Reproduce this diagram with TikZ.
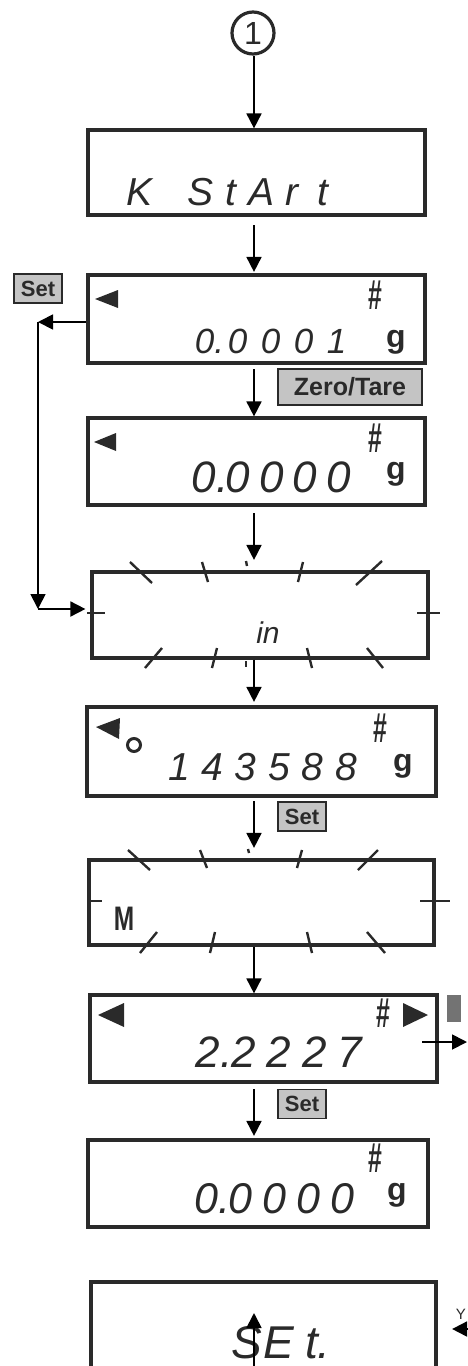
\documentclass[tikz,border=0pt]{standalone}
\usepackage{fontspec}
\usetikzlibrary{arrows.meta}
\newfontfamily\lcdfont{Liberation Sans}
\newfontfamily\keyfont{Liberation Sans}
\newlength\cw
\newcommand\cc[1]{\makebox[\cw][c]{#1}}
\definecolor{ink}{HTML}{2A2A2A}
\definecolor{keyfill}{HTML}{C4C4C4}
\tikzset{
  lcdbox/.style={draw=ink, line width=3.2pt, rectangle, inner sep=0pt},
  arr/.style={draw=black, line width=1.8pt, -{Triangle[length=15pt,width=15pt]}},
  blinkmark/.style={draw=ink, line width=2.4pt},
  keylabel/.style={draw=ink, fill=keyfill, line width=1.8pt, inner sep=0pt, text=ink,
    font=\keyfont\bfseries\fontsize{22}{22}\selectfont},
  lcdtxt/.style={inner sep=0pt, anchor=base west, text=ink,
    font=\lcdfont\itshape\fontsize{#1}{#1}\selectfont},
  hashsym/.style={inner sep=0pt, text=ink, font=\keyfont\bfseries\fontsize{40}{40}\selectfont},
  gram/.style={inner sep=0pt, text=ink, font=\keyfont\bfseries\fontsize{32}{32}\selectfont},
}
\begin{document}
\begin{tikzpicture}[x=1pt,y=-1pt]
\useasboundingbox (0,0) rectangle (467,1366);
\coordinate (axis) at (254,0);

% start marker
\node[circle, draw=ink, line width=3.2pt, minimum size=42pt, inner sep=0pt,
      font=\keyfont\fontsize{32}{32}\selectfont, text=ink] (start) at (253,33) {1};

% display boxes
\node[lcdbox, minimum width=337pt, minimum height=85pt] (b1) at (256.5,172.5) {};
\node[lcdbox, minimum width=337pt, minimum height=88pt] (b2) at (256.5,319) {};
\node[lcdbox, minimum width=337pt, minimum height=87pt] (b3) at (256.5,461.5) {};
\node[lcdbox, minimum width=336pt, minimum height=86pt] (b4) at (260,615) {};
\node[lcdbox, minimum width=349pt, minimum height=89pt] (b5) at (261.5,751.5) {};
\node[lcdbox, minimum width=345pt, minimum height=85pt] (b6) at (261.5,902.5) {};
\node[lcdbox, minimum width=347pt, minimum height=87pt] (b7) at (263.5,1038.5) {};
\node[lcdbox, minimum width=340pt, minimum height=87pt] (b8) at (258,1183.5) {};
\node[lcdbox, minimum width=345pt, minimum height=100pt] (b9) at (263.5,1332) {};

% box 1
\node[lcdtxt=39] (t1) at (124,205) {\setlength\cw{30.5pt}\cc{K}\cc{\ }\cc{S}\cc{t}\cc{A}\cc{r}\cc{t}};

% box 2
\fill[ink] (95,299) -- (118,290) -- (118,308) -- cycle;
\node[hashsym] (h2) at (375,295) {\scalebox{0.62}[1.05]{\#}};
\node[lcdtxt=35] (t2) at (188,353) {\setlength\cw{33pt}\cc{0\rlap{.}}\cc{0}\cc{0}\cc{0}\cc{1}};
\node[gram] (g2) at (396,342) {g};

% box 3
\fill[ink] (94,442) -- (116,433) -- (116,451) -- cycle;
\node[hashsym] (h3) at (375,438) {\scalebox{0.62}[1.05]{\#}};
\node[lcdtxt=44] (t3) at (187,492) {\setlength\cw{33.7pt}\cc{0\rlap{.}}\cc{0}\cc{0}\cc{0}\cc{0}};
\node[gram] (g3) at (396,474) {g};

% box 4 (flashing)
\draw[blinkmark] (130,562) -- (152,583);
\draw[blinkmark] (202,562) -- (208,582);
\draw[blinkmark] (246,561) -- (247,566);
\draw[blinkmark] (303,562) -- (298,582);
\draw[blinkmark] (382,561) -- (356,585);
\draw[blinkmark] (162,648) -- (145,668);
\draw[blinkmark] (217,648) -- (212,668);
\draw[blinkmark] (246,661) -- (246,667);
\draw[blinkmark] (307,648) -- (312,668);
\draw[blinkmark] (367,648) -- (383,668);
\draw[blinkmark] (87,613) -- (105,613);
\draw[blinkmark] (417,613) -- (440,613);
\node[inner sep=0pt, text=ink, font=\lcdfont\itshape\fontsize{30}{30}\selectfont] (t4) at (268,633) {in};

% box 5
\fill[ink] (96,727) -- (120,718) -- (119,739) -- cycle;
\draw[ink, line width=3pt] (134,745) circle (6.5pt);
\node[hashsym] (h5) at (380,728) {\scalebox{0.62}[1.05]{\#}};
\node[lcdtxt=39] (t5) at (162,780) {\setlength\cw{33.4pt}\cc{1}\cc{4}\cc{3}\cc{5}\cc{8}\cc{8}};
\node[gram] (g5) at (403,766) {g};

% box 6 (flashing)
\draw[blinkmark] (128,850) -- (150,870);
\draw[blinkmark] (200,850) -- (207,868);
\draw[blinkmark] (248,849) -- (249,853);
\draw[blinkmark] (302,850) -- (297,868);
\draw[blinkmark] (378,850) -- (358,870);
\draw[blinkmark] (157,932) -- (140,953);
\draw[blinkmark] (215,932) -- (210,953);
\draw[blinkmark] (307,932) -- (312,953);
\draw[blinkmark] (367,932) -- (385,953);
\draw[blinkmark] (87,901) -- (102,901);
\draw[blinkmark] (420,901) -- (450,901);
\node[inner sep=0pt, text=ink, font=\keyfont\bfseries\fontsize{34}{34}\selectfont] (m6) at (124,919) {\scalebox{0.72}[1]{M}};

% box 7
\fill[ink] (98,1015) -- (124,1003) -- (124,1027) -- cycle;
\fill[ink] (428,1015) -- (403,1003) -- (403,1027) -- cycle;
\node[hashsym] (h7) at (383,1013) {\scalebox{0.62}[1.05]{\#}};
\node[lcdtxt=44] (t7) at (190,1067) {\setlength\cw{35.5pt}\cc{2\rlap{.}}\cc{2}\cc{2}\cc{2}\cc{7}};
\fill[black!55] (447,995) rectangle (461,1022);

% box 8
\node[hashsym] (h8) at (375,1158) {\scalebox{0.62}[1.05]{\#}};
\node[lcdtxt=43] (t8) at (189,1213) {\setlength\cw{34pt}\cc{0\rlap{.}}\cc{0}\cc{0}\cc{0}\cc{0}};
\node[gram] (g8) at (397,1195) {g};

% box 9
\node[lcdtxt=46] (t9) at (230,1358) {\setlength\cw{32.5pt}\cc{S}\cc{E}\cc{t\rlap{.}}};
\node[anchor=north east, inner sep=0pt, text=ink, font=\keyfont\fontsize{15}{15}\selectfont] (yes) at (466,1309) {Y};

% key labels
\node[keylabel, minimum width=48pt, minimum height=29pt] (k1) at (38,288.5) {Set};
\node[keylabel, minimum width=144pt, minimum height=36pt,
      font=\keyfont\bfseries\fontsize{25}{25}\selectfont] (k2) at (350,387) {Zero/Tare};
\node[keylabel, minimum width=48pt, minimum height=29pt] (k3) at (302,816.5) {Set};
\node[keylabel, minimum width=48pt, minimum height=29pt] (k4) at (302,1104) {Set};

% main flow arrows
\draw[arr] (start.south -| axis) -- (b1.north -| axis);
\draw[arr, shorten <=8.5pt, shorten >=1.5pt] (b1.south -| axis) -- (b2.north -| axis);
\draw[arr, shorten <=4.5pt] (b2.south -| axis) -- (b3.north -| axis);
\draw[arr, shorten <=6.5pt, shorten >=10.5pt] (b3.south -| axis) -- (b4.north -| axis);
\draw[arr, shorten >=3.5pt] (b4.south -| axis) -- (b5.north -| axis);
\draw[arr, shorten <=3.5pt, shorten >=10.5pt] (b5.south -| axis) -- (b6.north -| axis);
\draw[arr] (b6.south -| axis) -- (b7.north -| axis);
\draw[arr, shorten <=5.5pt, shorten >=2.5pt] (b7.south -| axis) -- (b8.north -| axis);

% Set loop
\coordinate (c1) at (38,322);
\coordinate (c2) at (38,609);
\draw[arr] (b2.west |- c1) -- (c1);
\draw[arr] (c1) -- (c2);
\draw[arr, shorten >=5pt] (c2) -- (b4.west |- c2);

% side arrows
\coordinate (s7) at (422,1042);
\coordinate (o7) at (467,1042);
\draw[arr] (s7) -- (o7);
\coordinate (u0) at (254,1366);
\coordinate (u1) at (254,1313);
\draw[arr] (u0) -- (u1);
\coordinate (r0) at (467,1329);
\draw[arr, shorten >=14.5pt] (r0) -- (b9.east |- r0);
\end{tikzpicture}
\end{document}
